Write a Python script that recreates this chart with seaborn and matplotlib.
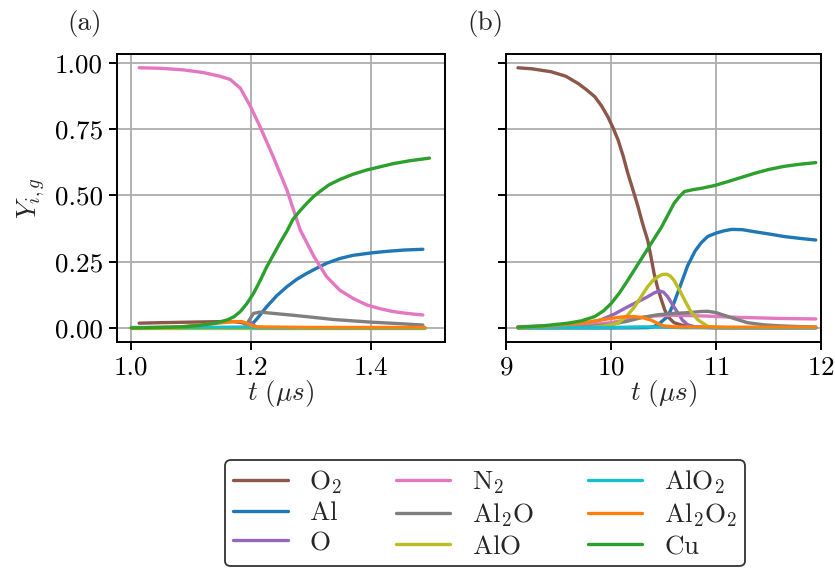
import numpy as np
import pandas as pd
import matplotlib
matplotlib.use("Agg")
import matplotlib.pyplot as plt
import seaborn as sns

# ---------------- data ----------------
species = ["O2", "Al", "O", "N2", "Al2O", "AlO", "AlO2", "Al2O2", "Cu"]
labels = [r"$\mathrm{O}_2$", r"$\mathrm{Al}$", r"$\mathrm{O}$", r"$\mathrm{N}_2$",
          r"$\mathrm{Al}_2\mathrm{O}$", r"$\mathrm{AlO}$", r"$\mathrm{AlO}_2$",
          r"$\mathrm{Al}_2\mathrm{O}_2$", r"$\mathrm{Cu}$"]
colors = ["#8c564b", "#1f77b4", "#9467bd", "#e377c2", "#7f7f7f",
          "#bcbd22", "#17becf", "#ff7f0e", "#2ca02c"]

# panel (a)
a_t = {
    "O2":    [1.013, 1.05, 1.10, 1.15, 1.17, 1.185, 1.195, 1.205, 1.22, 1.30, 1.40, 1.49],
    "Al":    [1.00, 1.10, 1.19, 1.198, 1.21, 1.226, 1.243, 1.26, 1.276, 1.293, 1.31, 1.326, 1.348, 1.37, 1.40, 1.426, 1.455, 1.487],
    "O":     [1.00, 1.10, 1.19, 1.20, 1.21, 1.30, 1.49],
    "N2":    [1.013, 1.05, 1.087, 1.12, 1.148, 1.165, 1.182, 1.198, 1.215, 1.237, 1.26, 1.282, 1.305, 1.326, 1.348, 1.37, 1.393, 1.415, 1.437, 1.46, 1.487],
    "Al2O":  [1.00, 1.10, 1.19, 1.197, 1.204, 1.215, 1.237, 1.27, 1.30, 1.337, 1.40, 1.45, 1.487],
    "AlO":   [1.00, 1.20, 1.49],
    "AlO2":  [1.00, 1.10, 1.19, 1.20, 1.21, 1.49],
    "Al2O2": [1.00, 1.08, 1.115, 1.14, 1.17, 1.185, 1.198, 1.21, 1.30, 1.49],
    "Cu":    [1.00, 1.05, 1.09, 1.115, 1.14, 1.16, 1.172, 1.182, 1.193, 1.204, 1.215, 1.226, 1.237, 1.248, 1.26, 1.27, 1.282, 1.293, 1.304, 1.315, 1.33, 1.348, 1.37, 1.393, 1.415, 1.437, 1.465, 1.498],
}
a_y = {
    "O2":    [0.018, 0.020, 0.022, 0.024, 0.024, 0.020, 0.012, 0.004, 0.001, 0.001, 0.001, 0.001],
    "Al":    [0.0, 0.0, 0.0, 0.005, 0.035, 0.08, 0.122, 0.156, 0.183, 0.206, 0.226, 0.244, 0.262, 0.274, 0.283, 0.289, 0.294, 0.297],
    "O":     [0.0, 0.0, 0.0, 0.02, 0.0, 0.0, 0.0],
    "N2":    [0.982, 0.980, 0.974, 0.964, 0.950, 0.938, 0.905, 0.840, 0.76, 0.646, 0.52, 0.37, 0.27, 0.194, 0.143, 0.112, 0.087, 0.073, 0.062, 0.055, 0.049],
    "Al2O":  [0.0, 0.0, 0.002, 0.03, 0.055, 0.06, 0.055, 0.048, 0.041, 0.032, 0.022, 0.016, 0.011],
    "AlO":   [0.0, 0.0, 0.0],
    "AlO2":  [0.002, 0.002, 0.003, 0.002, 0.0, 0.0],
    "Al2O2": [0.0, 0.004, 0.011, 0.017, 0.024, 0.024, 0.012, 0.004, 0.002, 0.002],
    "Cu":    [0.0, 0.002, 0.005, 0.010, 0.018, 0.030, 0.043, 0.062, 0.092, 0.13, 0.178, 0.23, 0.275, 0.32, 0.366, 0.41, 0.443, 0.47, 0.495, 0.515, 0.54, 0.56, 0.58, 0.596, 0.608, 0.62, 0.631, 0.641],
}

# panel (b)
b_t = {
    "O2":    [9.114, 9.25, 9.43, 9.57, 9.686, 9.77, 9.845, 9.91, 9.97, 10.02, 10.067, 10.115, 10.16, 10.21, 10.257, 10.30, 10.35, 10.38, 10.41, 10.445, 10.48, 10.51, 10.54, 10.60, 10.67, 10.80, 11.0, 11.95],
    "Al":    [9.114, 10.0, 10.35, 10.41, 10.47, 10.54, 10.6, 10.67, 10.73, 10.8, 10.86, 10.92, 11.0, 11.08, 11.15, 11.25, 11.37, 11.5, 11.65, 11.8, 11.95],
    "O":     [9.114, 9.6, 9.75, 9.9, 10.03, 10.16, 10.26, 10.35, 10.41, 10.46, 10.50, 10.54, 10.59, 10.64, 10.68, 10.73, 10.8, 11.0, 11.95],
    "N2":    [9.114, 9.5, 9.8, 10.0, 10.2, 10.4, 10.6, 10.9, 11.2, 11.6, 11.95],
    "Al2O":  [9.114, 9.7, 9.97, 10.15, 10.3, 10.45, 10.6, 10.75, 10.85, 10.92, 11.0, 11.1, 11.2, 11.3, 11.45, 11.6, 11.8, 11.95],
    "AlO":   [9.114, 9.8, 9.95, 10.067, 10.15, 10.225, 10.29, 10.35, 10.40, 10.45, 10.49, 10.53, 10.565, 10.6, 10.65, 10.70, 10.76, 10.83, 10.92, 11.1, 11.95],
    "AlO2":  [9.114, 10.0, 10.3, 10.5, 10.7, 11.95],
    "Al2O2": [9.114, 9.4, 9.6, 9.75, 9.9, 10.07, 10.15, 10.22, 10.30, 10.38, 10.44, 10.5, 10.6, 11.0, 11.95],
    "Cu":    [9.114, 9.35, 9.59, 9.72, 9.845, 9.93, 10.003, 10.08, 10.16, 10.24, 10.32, 10.40, 10.48, 10.54, 10.6, 10.65, 10.70, 10.78, 10.86, 10.98, 11.11, 11.24, 11.37, 11.5, 11.65, 11.8, 11.95],
}
b_y = {
    "O2":    [0.982, 0.978, 0.967, 0.95, 0.923, 0.898, 0.873, 0.838, 0.797, 0.755, 0.71, 0.65, 0.584, 0.52, 0.458, 0.395, 0.33, 0.27, 0.206, 0.15, 0.106, 0.07, 0.043, 0.02, 0.011, 0.003, 0.001, 0.001],
    "Al":    [0.0, 0.0, 0.001, 0.005, 0.02, 0.043, 0.095, 0.17, 0.235, 0.29, 0.322, 0.345, 0.358, 0.367, 0.372, 0.371, 0.363, 0.355, 0.345, 0.338, 0.332],
    "O":     [0.002, 0.008, 0.015, 0.03, 0.052, 0.08, 0.10, 0.118, 0.132, 0.14, 0.135, 0.118, 0.085, 0.055, 0.03, 0.012, 0.004, 0.001, 0.001],
    "N2":    [0.005, 0.008, 0.012, 0.02, 0.035, 0.045, 0.048, 0.045, 0.04, 0.036, 0.034],
    "Al2O":  [0.0, 0.003, 0.011, 0.025, 0.04, 0.05, 0.055, 0.058, 0.062, 0.063, 0.058, 0.045, 0.032, 0.02, 0.012, 0.008, 0.005, 0.004],
    "AlO":   [0.0, 0.002, 0.008, 0.018, 0.045, 0.08, 0.12, 0.156, 0.18, 0.194, 0.202, 0.203, 0.196, 0.18, 0.145, 0.106, 0.062, 0.03, 0.006, 0.001, 0.001],
    "AlO2":  [0.001, 0.002, 0.004, 0.003, 0.001, 0.0],
    "Al2O2": [0.003, 0.008, 0.014, 0.02, 0.03, 0.04, 0.043, 0.043, 0.039, 0.03, 0.018, 0.008, 0.004, 0.003, 0.003],
    "Cu":    [0.003, 0.008, 0.018, 0.027, 0.043, 0.065, 0.093, 0.132, 0.18, 0.23, 0.28, 0.33, 0.38, 0.425, 0.47, 0.495, 0.515, 0.522, 0.527, 0.537, 0.552, 0.568, 0.584, 0.598, 0.61, 0.618, 0.624],
}

# ---------------- styling ----------------
FS = 19.5
sns.set_theme(style="ticks")
plt.rcParams.update({
    "font.family": "serif",
    "font.serif": ["cmr10", "DejaVu Serif"],
    "mathtext.fontset": "cm",
    "axes.formatter.use_mathtext": True,
    "font.size": FS,
    "axes.labelsize": FS,
    "xtick.labelsize": FS,
    "ytick.labelsize": FS,
    "legend.fontsize": FS,
    "axes.edgecolor": "black",
    "axes.linewidth": 1.4,
    "xtick.color": "black",
    "ytick.color": "black",
    "xtick.major.width": 1.4,
    "ytick.major.width": 1.4,
    "xtick.major.size": 6,
    "ytick.major.size": 6,
    "xtick.major.pad": 4,
    "ytick.major.pad": 4,
})

palette = dict(zip(species, colors))
LW = 2.4


def make_frame(tdict, ydict):
    rows = []
    for sp in species:
        for t, y in zip(tdict[sp], ydict[sp]):
            rows.append({"t": t, "Y": y, "species": sp})
    return pd.DataFrame(rows)


dfa = make_frame(a_t, a_y)
dfb = make_frame(b_t, b_y)

fig = plt.figure(figsize=(8.35, 5.81), dpi=100)
ax1 = fig.add_axes([117 / 835, 1 - 342 / 581, 328 / 835, 288 / 581])
ax2 = fig.add_axes([506 / 835, 1 - 342 / 581, 315 / 835, 288 / 581], sharey=ax1)

for ax, df in ((ax1, dfa), (ax2, dfb)):
    sns.lineplot(data=df, x="t", y="Y", hue="species", hue_order=species,
                 palette=palette, estimator=None, sort=False, linewidth=LW,
                 ax=ax, legend=False)
    ax.grid(True, color="#adadad", linewidth=1.3)
    ax.set_axisbelow(True)
    ax.set_xlabel(r"$t\ (\mu s)$", labelpad=-1)
    ax.set_ylabel("")

ax1.set_xlim(0.976, 1.524)
ax1.set_xticks([1.0, 1.2, 1.4])
ax1.set_xticklabels(["1.0", "1.2", "1.4"])
ax2.set_xlim(9.0, 12.0)
ax2.set_xticks([9, 10, 11, 12])
ax1.set_ylim(-0.053, 1.034)
ax1.set_yticks([0.0, 0.25, 0.5, 0.75, 1.0])
ax1.set_yticklabels(["0.00", "0.25", "0.50", "0.75", "1.00"])
ax1.set_ylabel(r"$Y_{i,g}$", labelpad=6)
plt.setp(ax2.get_yticklabels(), visible=False)

ax1.text(-0.10, 1.105, "(a)", transform=ax1.transAxes, ha="center", va="center", fontsize=FS)
ax2.text(-0.065, 1.105, "(b)", transform=ax2.transAxes, ha="center", va="center", fontsize=FS)

handles = [plt.Line2D([], [], color=c, linewidth=LW) for c in colors]
leg = fig.legend(handles, labels, loc="lower center", ncol=3,
                 bbox_to_anchor=(485 / 835, 1 / 581), frameon=True,
                 fancybox=True, edgecolor="black", handlelength=2.0,
                 handletextpad=0.8, columnspacing=2.0, labelspacing=0.2,
                 borderpad=0.3)
leg.get_frame().set_linewidth(1.3)

fig.savefig("out.png", dpi=100)
